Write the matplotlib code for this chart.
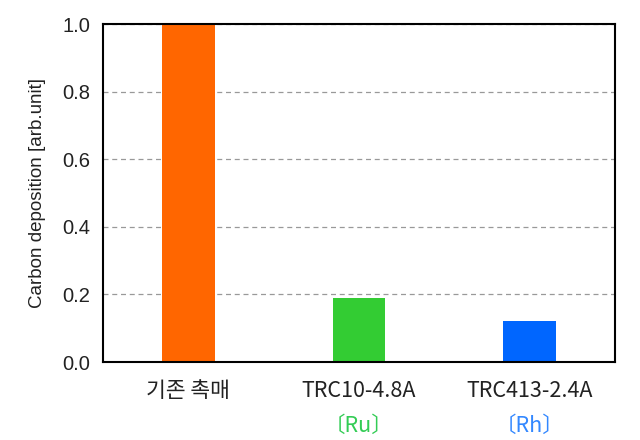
import matplotlib.pyplot as plt

# Data
catalysts = ['기존 촉매', 'TRC10-4.8A', 'TRC413-2.4A']
metals = ['', '〔Ru〕', '〔Rh〕']
carbon = [1.0, 0.19, 0.12]
bar_colors = ['#FF6600', '#33CC33', '#0066FF']
label_colors = ['#222222', '#33CC55', '#3388FF']

fig = plt.figure(figsize=(6.4, 4.4), dpi=100)
ax = fig.add_axes([103 / 640, 1 - 362 / 440, 512 / 640, 338 / 440])

x = range(len(catalysts))
ax.bar(x, carbon, width=0.31, color=bar_colors, zorder=3)

ax.set_xlim(-0.5, 2.5)
ax.set_ylim(0, 1.0)
ax.set_yticks([0.0, 0.2, 0.4, 0.6, 0.8, 1.0])
ax.set_yticklabels(['0.0', '0.2', '0.4', '0.6', '0.8', '1.0'],
                   fontsize=14.5, family='Liberation Sans', color='#222222')
ax.yaxis.grid(True, linestyle=(0, (4, 3)), color='#999999', linewidth=0.9, zorder=0)
ax.tick_params(axis='both', length=0)
ax.tick_params(axis='y', pad=9)

ax.set_xticks(list(x))
ax.set_xticklabels(catalysts, fontsize=15.5, family=['Noto Sans CJK KR', 'DejaVu Sans'],
                   color='#222222')
ax.tick_params(axis='x', pad=13)

for i, m in enumerate(metals):
    if m:
        ax.text(i, -0.19, m, ha='center', va='center',
                fontsize=15.5, color=label_colors[i], clip_on=False,
                family=['Noto Sans CJK KR', 'DejaVu Sans'])

ax.set_ylabel('Carbon deposition [arb.unit]', fontsize=13.5,
              family='Liberation Sans', color='#222222', labelpad=12)

for s in ax.spines.values():
    s.set_linewidth(1.5)
    s.set_color('black')
    s.set_zorder(4)

fig.savefig('out.png', dpi=100)
